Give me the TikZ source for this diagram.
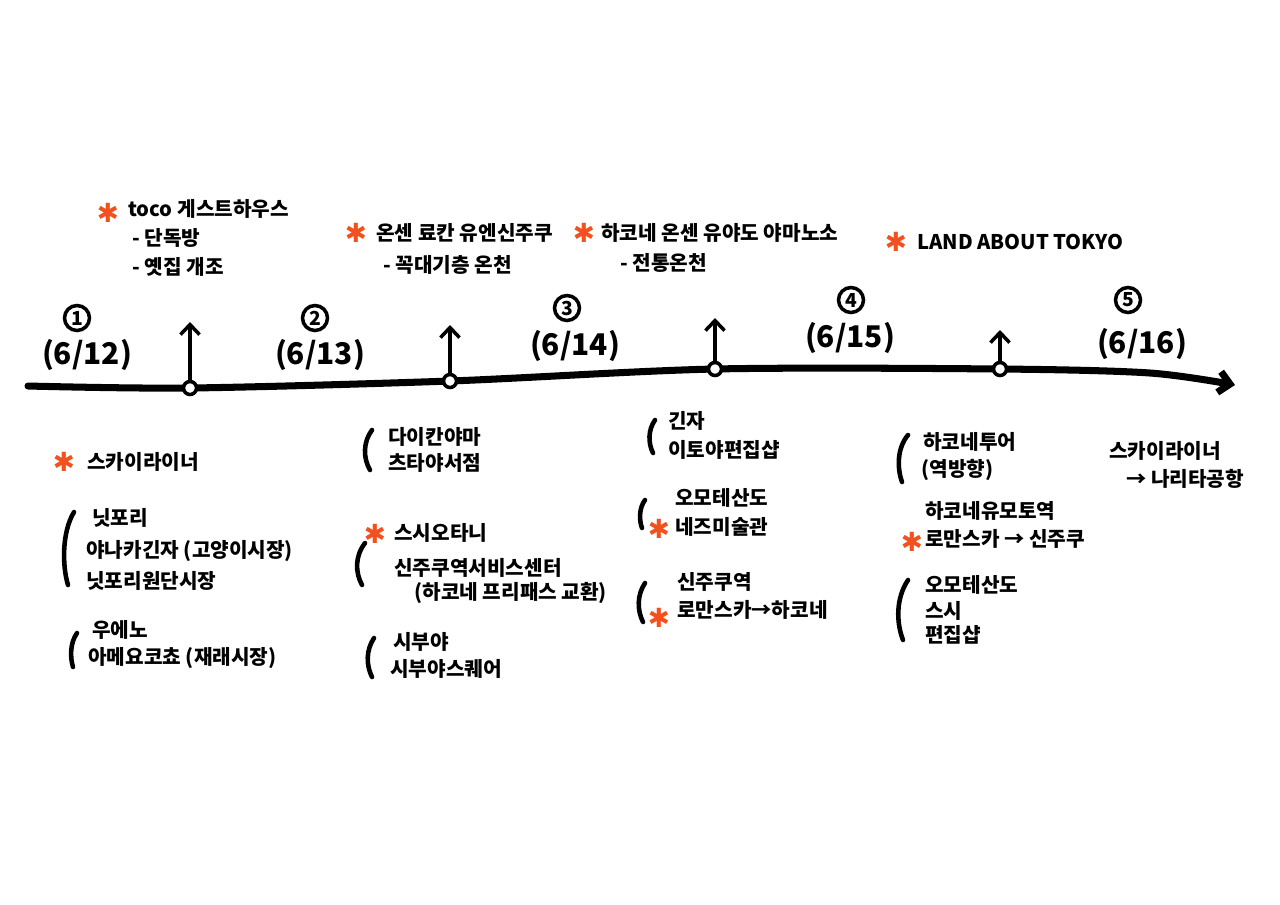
\documentclass[tikz,border=0pt]{standalone}
\usepackage{fontspec}
\setmainfont{Noto Sans CJK KR}
\newfontfamily\starfont{DejaVu Sans}
\usetikzlibrary{arrows.meta}
\definecolor{starorange}{HTML}{F2501E}
\begin{document}
\begin{tikzpicture}[x=0.02cm,y=-0.02cm,
    txt/.style={anchor=west,inner sep=0pt,font=\fontsize{11.5}{13}\selectfont\bfseries},
    hstar/.style={inner sep=0pt,text=starorange,font=\starfont\bfseries\fontsize{15}{15}\selectfont},
    daynum/.style={circle,draw,line width=2pt,inner sep=0pt,minimum size=0.5cm,font=\fontsize{11}{11}\selectfont\bfseries},
    datelbl/.style={inner sep=0pt,font=\fontsize{17}{17}\selectfont\bfseries},
    paren/.style={line width=2.6pt,line cap=round},
    tickmark/.style={circle,draw,line width=2pt,fill=white,inner sep=0pt,minimum size=0.26cm},
    uparrow/.style={-{Straight Barb[length=0.2cm,width=0.38cm]},line width=2pt}]
    \useasboundingbox (0,0) rectangle (1280,904);
    % timeline
    \coordinate (lineS) at (28,386);
    \coordinate (lineE) at (1235,385);
    \coordinate (p1) at (190,388);
    \coordinate (p2) at (450,381);
    \coordinate (p3) at (715,369);
    \coordinate (p4) at (1000,369);
    \draw[line width=4pt,line cap=round,-{Straight Barb[length=0.22cm,width=0.42cm]}]
        plot[smooth,tension=0.5] coordinates {(lineS) (p1) (p2) (p3) (p4) (1150,373) (lineE)};
    \node[tickmark] (tk1) at (p1) {};
    \node[tickmark] (tk2) at (p2) {};
    \node[tickmark] (tk3) at (p3) {};
    \node[tickmark] (tk4) at (p4) {};
    \coordinate (up1) at (190,322);
    \coordinate (up2) at (450,325);
    \coordinate (up3) at (715,318);
    \coordinate (up4) at (1000,330);
    \draw[uparrow] (tk1) -- (up1);
    \draw[uparrow] (tk2) -- (up2);
    \draw[uparrow] (tk3) -- (up3);
    \draw[uparrow] (tk4) -- (up4);
    % days
    \node[daynum] (d1) at (77,318) {1};
    \node[daynum] (d2) at (315,318) {2};
    \node[daynum] (d3) at (567,308) {3};
    \node[daynum] (d4) at (851,300) {4};
    \node[daynum] (d5) at (1128,300) {5};
    \node[datelbl] (dt1) at (87,355) {(6/12)};
    \node[datelbl] (dt2) at (320,355) {(6/13)};
    \node[datelbl] (dt3) at (575,346) {(6/14)};
    \node[datelbl] (dt4) at (850,338) {(6/15)};
    \node[datelbl] (dt5) at (1142,344) {(6/16)};
    % stays
    \node[hstar] (s1) at (108,213) {✱};
    \node[txt] (h1) at (128,209) {toco 게스트하우스};
    \node[txt] (h1a) at (132,238) {- 단독방};
    \node[txt] (h1b) at (132,267) {- 옛집 개조};
    \node[hstar] (s2) at (356,233) {✱};
    \node[txt] (h2) at (376,233) {온센 료칸 유엔신주쿠};
    \node[txt] (h2a) at (383,265) {- 꼭대기층 온천};
    \node[hstar] (s3) at (584,233) {✱};
    \node[txt] (h3) at (601,233) {하코네 온센 유야도 야마노소};
    \node[txt] (h3a) at (620,263) {- 전통온천};
    \node[hstar] (s4) at (896,242) {✱};
    \node[txt] (h4) at (917,242) {LAND ABOUT TOKYO};
    % day 1
    \node[hstar] (s5) at (64,462) {✱};
    \node[txt] (a1) at (87,462) {스카이라이너};
    \draw[paren] (74,512) .. controls (62,532) and (62,565) .. (68,585);
    \node[txt] (a2) at (92,518) {닛포리};
    \node[txt] (a3) at (86,551) {야나카긴자 (고양이시장)};
    \node[txt] (a4) at (86,581) {닛포리원단시장};
    \draw[paren] (77,633) .. controls (70,643) and (70,657) .. (73,667);
    \node[txt] (a5) at (92,630) {우에노};
    \node[txt] (a6) at (88,658) {아메요코쵸 (재래시장)};
    % day 2
    \draw[paren] (372,430) .. controls (363,442) and (363,458) .. (370,470);
    \node[txt] (b1) at (388,437) {다이칸야마};
    \node[txt] (b2) at (388,463) {츠타야서점};
    \draw[paren] (365,543) .. controls (355,556) and (355,572) .. (362,585);
    \node[hstar] (s6) at (375,534) {✱};
    \node[txt] (b3) at (394,533) {스시오타니};
    \node[txt] (b4) at (394,568) {신주쿠역서비스센터};
    \node[txt] (b5) at (414,593) {(하코네 프리패스 교환)};
    \draw[paren] (374,638) .. controls (366,650) and (366,665) .. (372,677);
    \node[txt] (b6) at (393,642) {시부야};
    \node[txt] (b7) at (390,669) {시부야스퀘어};
    % day 3
    \draw[paren] (655,420) .. controls (648,430) and (648,443) .. (653,453);
    \node[txt] (c1) at (668,421) {긴자};
    \node[txt] (c2) at (668,450) {이토야편집샵};
    \draw[paren] (645,500) .. controls (639,508) and (639,520) .. (642,528);
    \node[txt] (c3) at (675,498) {오모테산도};
    \node[hstar] (s7) at (659,529) {✱};
    \node[txt] (c4) at (675,527) {네즈미술관};
    \draw[paren] (645,583) .. controls (637,595) and (637,610) .. (643,622);
    \node[txt] (c5) at (677,582) {신주쿠역};
    \node[hstar] (s8) at (659,618) {✱};
    \node[txt] (c6) at (677,610) {로만스카→하코네};
    % day 4
    \draw[paren] (908,435) .. controls (897,448) and (897,468) .. (902,482);
    \node[txt] (e1) at (923,442) {하코네투어};
    \node[txt] (e2) at (921,470) {(역방향)};
    \node[txt] (e3) at (925,511) {하코네유모토역};
    \node[hstar] (s9) at (912,542) {✱};
    \node[txt] (e4) at (925,539) {로만스카 → 신주쿠};
    \draw[paren] (908,580) .. controls (896,598) and (896,622) .. (903,640);
    \node[txt] (e5) at (925,585) {오모테산도};
    \node[txt] (e6) at (925,611) {스시};
    \node[txt] (e7) at (925,635) {편집샵};
    % day 5
    \node[txt] (f1) at (1109,451) {스카이라이너};
    \node[txt] (f2) at (1126,479) {→ 나리타공항};
\end{tikzpicture}
\end{document}
